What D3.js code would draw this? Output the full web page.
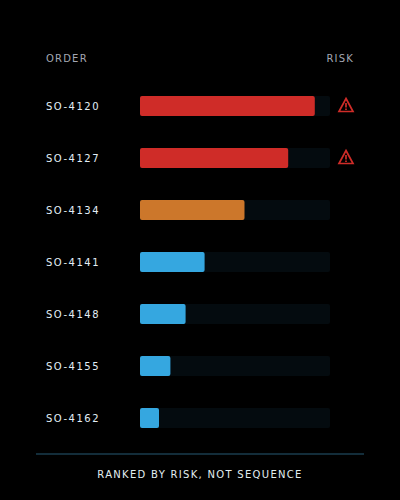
<!DOCTYPE html>
<html><head><meta charset="utf-8">
<script src="https://cdn.jsdelivr.net/npm/d3@7/dist/d3.min.js"></script>
<style>html,body{margin:0;padding:0;background:#000}#c{position:relative;width:400px;height:500px;background:#000;overflow:hidden}svg{display:block}
.t{position:absolute;font-family:"DejaVu Sans",sans-serif;white-space:nowrap;line-height:14px}</style>
</head><body><div id="c"></div>
<script>
const orders = ["SO-4120","SO-4127","SO-4134","SO-4141","SO-4148","SO-4155","SO-4162"];
const risk = [92,78,55,34,24,16,10];
const levels = ["high","high","mid","low","low","low","low"];
const flagged = ["SO-4120","SO-4127"];
const levelNames = ["high","mid","low"];
const levelColors = ["#cf2c28","#cc772b","#35a7e0"];

const root = d3.select("#c");
const svg = root.append("svg").attr("width",400).attr("height",500);
const x = d3.scaleLinear().domain([0,100]).range([140,330]);
const y = d3.scaleBand().domain(orders).range([80,444]).paddingInner(32/52).paddingOuter(16/52);
const color = d3.scaleOrdinal().domain(levelNames).range(levelColors);

const label = (t,top,fill,size,ls)=>root.append("div").attr("class","t")
  .style("top",top+"px").style("color",fill).style("font-size",size+"px")
  .style("letter-spacing",ls+"px").text(t);
label("ORDER",52,"#a3a6b2",10,1.2).style("left","46px");
label("RISK",52,"#a3a6b2",10,1.2).style("right","46px");

const row = svg.selectAll("g.row").data(orders).join("g").attr("class","row");
row.append("rect").attr("x",x(0)).attr("y",d=>y(d)).attr("width",x(100)-x(0))
  .attr("height",y.bandwidth()).attr("rx",2).attr("fill","#040b0f");
row.append("rect").attr("x",x(0)).attr("y",d=>y(d))
  .attr("width",(d,i)=>x(risk[i])-x(0)).attr("height",y.bandwidth()).attr("rx",2)
  .attr("fill",(d,i)=>color(levels[i]));
orders.forEach(d=>label(d,y(d)+4,"#e2eef6",10,1.5).style("left","46px"));

const warn = svg.selectAll("g.warn").data(flagged).join("g").attr("class","warn")
  .attr("transform",d=>`translate(346,${y(d)+y.bandwidth()/2-1})`);
warn.append("path").attr("d","M0,-6.5 L7,6.5 L-7,6.5 Z").attr("fill","none")
  .attr("stroke","#cf2c28").attr("stroke-width",1.7);
warn.append("line").attr("x1",0).attr("x2",0).attr("y1",-2).attr("y2",2.5)
  .attr("stroke","#cf2c28").attr("stroke-width",1.7);
warn.append("line").attr("x1",0).attr("x2",0).attr("y1",3.5).attr("y2",5)
  .attr("stroke","#cf2c28").attr("stroke-width",1.7);

svg.append("line").attr("x1",36).attr("x2",364).attr("y1",454).attr("y2",454)
  .attr("stroke","#1a3d4e").attr("stroke-width",1.5);
label("RANKED BY RISK, NOT SEQUENCE",468,"#e2eef0",10,1.3).style("left","0").style("width","400px").style("text-align","center");
</script></body></html>
